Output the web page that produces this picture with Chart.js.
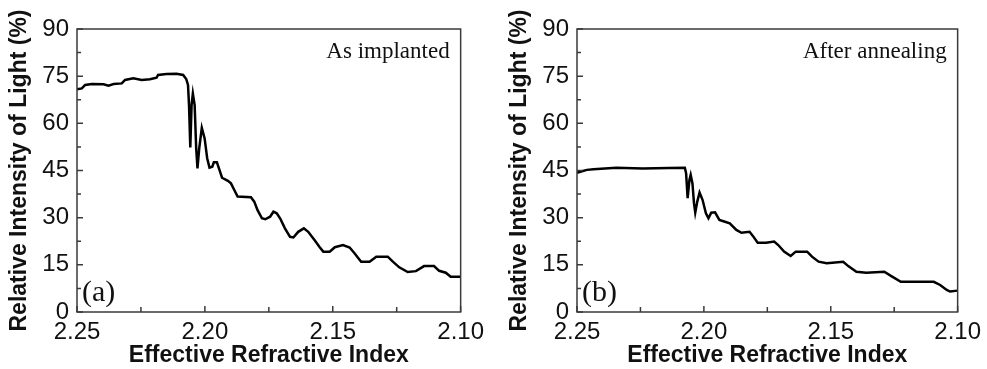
<!DOCTYPE html>
<html>
<head>
<meta charset="utf-8">
<script src="https://cdn.jsdelivr.net/npm/chart.js@4.4.1/dist/chart.umd.min.js"></script>
<style>
  html, body { margin: 0; padding: 0; background: #fff; }
  #wrap { position: relative; width: 987px; height: 369px; overflow: hidden; }
  canvas { position: absolute; top: 0; }
</style>
</head>
<body>
<div id="wrap">
  <canvas id="chartA" width="490" height="369" style="left:0px"></canvas>
  <canvas id="chartB" width="487" height="369" style="left:500px"></canvas>
</div>
<script>
// axis ticks
const xTicks = [2.25, 2.2, 2.15, 2.1];
const xMinor = [2.225, 2.175, 2.125];
const yTicks = [0, 15, 30, 45, 60, 75, 90];
const yMinor = [7.5, 22.5, 37.5, 52.5, 67.5, 82.5];

// (a) as implanted
const indexA = [
  2.2500, 2.2481, 2.2468, 2.2442, 2.2396, 2.2377, 2.2357, 2.2325, 2.2312, 2.2280,
  2.2247, 2.2215, 2.2189, 2.2183, 2.2150, 2.2111, 2.2085, 2.2073, 2.2066, 2.2062,
  2.2057, 2.2052, 2.2047, 2.2040, 2.2034, 2.2029, 2.2022, 2.2012, 2.2001, 2.1991,
  2.1982, 2.1971, 2.1965, 2.1953, 2.1943, 2.1933, 2.1910, 2.1898, 2.1885, 2.1872,
  2.1820, 2.1807, 2.1794, 2.1777, 2.1764, 2.1745, 2.1732, 2.1719, 2.1706, 2.1687,
  2.1667, 2.1654, 2.1635, 2.1613, 2.1596, 2.1570, 2.1551, 2.1537, 2.1512, 2.1492,
  2.1460, 2.1434, 2.1415, 2.1389, 2.1356, 2.1330, 2.1285, 2.1265, 2.1240, 2.1207,
  2.1175, 2.1143, 2.1104, 2.1084, 2.1058, 2.1039, 2.1000
];
const intensityA = [
  70.8, 71.1, 72.2, 72.5, 72.4, 72.0, 72.5, 72.7, 73.8, 74.3,
  73.8, 74.0, 74.5, 75.4, 75.7, 75.8, 75.4, 74.1, 72.2, 65.8,
  52.3, 65.8, 69.5, 65.8, 52.1, 45.7, 52.1, 58.6, 55.2, 48.9,
  45.9, 46.2, 47.6, 47.6, 45.2, 42.7, 41.7, 40.9, 38.8, 36.7,
  36.5, 35.1, 32.4, 29.8, 29.5, 30.3, 31.9, 31.4, 29.8, 26.6,
  23.9, 23.7, 25.5, 26.6, 25.5, 22.7, 20.6, 19.2, 19.2, 20.6,
  21.3, 20.5, 18.7, 16.0, 16.0, 17.6, 17.6, 16.0, 14.2, 12.7,
  13.0, 14.6, 14.6, 13.1, 12.5, 11.2, 11.2
];

// (b) after annealing
const indexB = [
  2.2500, 2.2487, 2.2461, 2.2435, 2.2345, 2.2241, 2.2137, 2.2075, 2.2070, 2.2064,
  2.2057, 2.2052, 2.2045, 2.2039, 2.2034, 2.2026, 2.2017, 2.2005, 2.1992, 2.1982,
  2.1971, 2.1956, 2.1939, 2.1917, 2.1898, 2.1872, 2.1852, 2.1820, 2.1807, 2.1788,
  2.1755, 2.1723, 2.1707, 2.1684, 2.1658, 2.1638, 2.1593, 2.1574, 2.1548, 2.1516,
  2.1451, 2.1431, 2.1399, 2.1360, 2.1289, 2.1263, 2.1224, 2.1166, 2.1094, 2.1069,
  2.1043, 2.1030, 2.1000
];
const intensityB = [
  44.3, 44.6, 45.2, 45.4, 45.9, 45.6, 45.8, 45.9, 44.1, 36.2,
  42.0, 43.6, 40.9, 34.6, 31.6, 35.1, 38.0, 35.6, 31.4, 29.8,
  31.6, 31.7, 29.3, 28.7, 28.2, 26.1, 25.2, 25.5, 24.2, 22.0,
  22.0, 22.4, 21.3, 19.2, 17.8, 19.2, 19.2, 17.6, 16.0, 15.5,
  16.0, 14.6, 12.8, 12.5, 12.8, 11.5, 9.6, 9.6, 9.6, 8.6,
  7.0, 6.5, 6.8
];

const sans = "'Liberation Sans', Arial, sans-serif";
const serif = "'Liberation Serif', 'Times New Roman', serif";

// frame, inward ticks and the two text notes
const framePlugin = {
  id: "frame",
  afterDraw(chart, args, opts) {
    const { ctx, chartArea: a, scales } = chart;
    ctx.save();
    ctx.strokeStyle = "#3a3a3a";
    ctx.lineWidth = 1.5;
    ctx.strokeRect(a.left, a.top, a.right - a.left, a.bottom - a.top);
    ctx.beginPath();
    yTicks.forEach((v) => {
      const y = scales.y.getPixelForValue(v);
      ctx.moveTo(a.left, y);
      ctx.lineTo(a.left + 6, y);
    });
    yMinor.forEach((v) => {
      const y = scales.y.getPixelForValue(v);
      ctx.moveTo(a.left, y);
      ctx.lineTo(a.left + 4, y);
    });
    xTicks.forEach((v) => {
      const x = scales.x.getPixelForValue(v);
      ctx.moveTo(x, a.bottom);
      ctx.lineTo(x, a.bottom - 6);
    });
    xMinor.forEach((v) => {
      const x = scales.x.getPixelForValue(v);
      ctx.moveTo(x, a.bottom);
      ctx.lineTo(x, a.bottom - 5);
    });
    ctx.stroke();

    ctx.fillStyle = "#111";
    ctx.font = "23px " + serif;
    ctx.textAlign = "right";
    ctx.textBaseline = "alphabetic";
    ctx.fillText(opts.note, a.right - 11, a.top + 29);
    ctx.font = "30px " + serif;
    ctx.textAlign = "left";
    ctx.fillText(opts.tag, a.left + 5, a.bottom - 11);
    ctx.restore();
  },
};

const makeChart = (id, xs, ys, note, tag, rightPad) => {
  return new Chart(document.getElementById(id), {
    type: "line",
    data: {
      datasets: [
        {
          data: xs.map((x, i) => ({ x: x, y: ys[i] })),
          borderColor: "#000",
          borderWidth: 2.5,
          pointRadius: 0,
          tension: 0,
          fill: false,
        },
      ],
    },
    options: {
      responsive: false,
      animation: false,
      devicePixelRatio: 1,
      layout: { padding: { top: 29, right: rightPad, left: 0, bottom: 0 } },
      plugins: {
        legend: { display: false },
        tooltip: { enabled: false },
        frame: { note: note, tag: tag },
      },
      scales: {
        x: {
          type: "linear",
          reverse: true,
          min: 2.1,
          max: 2.25,
          afterBuildTicks: (s) => {
            s.ticks = xTicks.map((v) => ({ value: v }));
          },
          afterFit: (s) => {
            s.height = 57;
          },
          grid: { display: false, drawTicks: false },
          border: { display: false },
          ticks: {
            callback: (v) => Number(v).toFixed(2),
            font: { family: sans, size: 24 },
            color: "#111",
            padding: 6,
            maxRotation: 0,
            autoSkip: false,
          },
          title: {
            display: true,
            text: "Effective Refractive Index",
            font: { family: sans, size: 23, weight: "bold" },
            color: "#111",
            padding: { top: 0, bottom: 0 },
          },
        },
        y: {
          min: 0,
          max: 90,
          afterBuildTicks: (s) => {
            s.ticks = yTicks.map((v) => ({ value: v }));
          },
          afterFit: (s) => {
            s.width = 77;
          },
          grid: { display: false, drawTicks: false },
          border: { display: false },
          ticks: {
            font: { family: sans, size: 24 },
            color: "#111",
            padding: 8,
          },
          title: {
            display: true,
            text: "Relative Intensity of Light (%)",
            font: { family: sans, size: 23, weight: "bold" },
            color: "#111",
            padding: { top: 6, bottom: 0 },
          },
        },
      },
    },
    plugins: [framePlugin],
  });
};

makeChart("chartA", indexA, intensityA, "As implanted", "(a)", 27);
makeChart("chartB", indexB, intensityB, "After annealing", "(b)", 24);
</script>
</body>
</html>
